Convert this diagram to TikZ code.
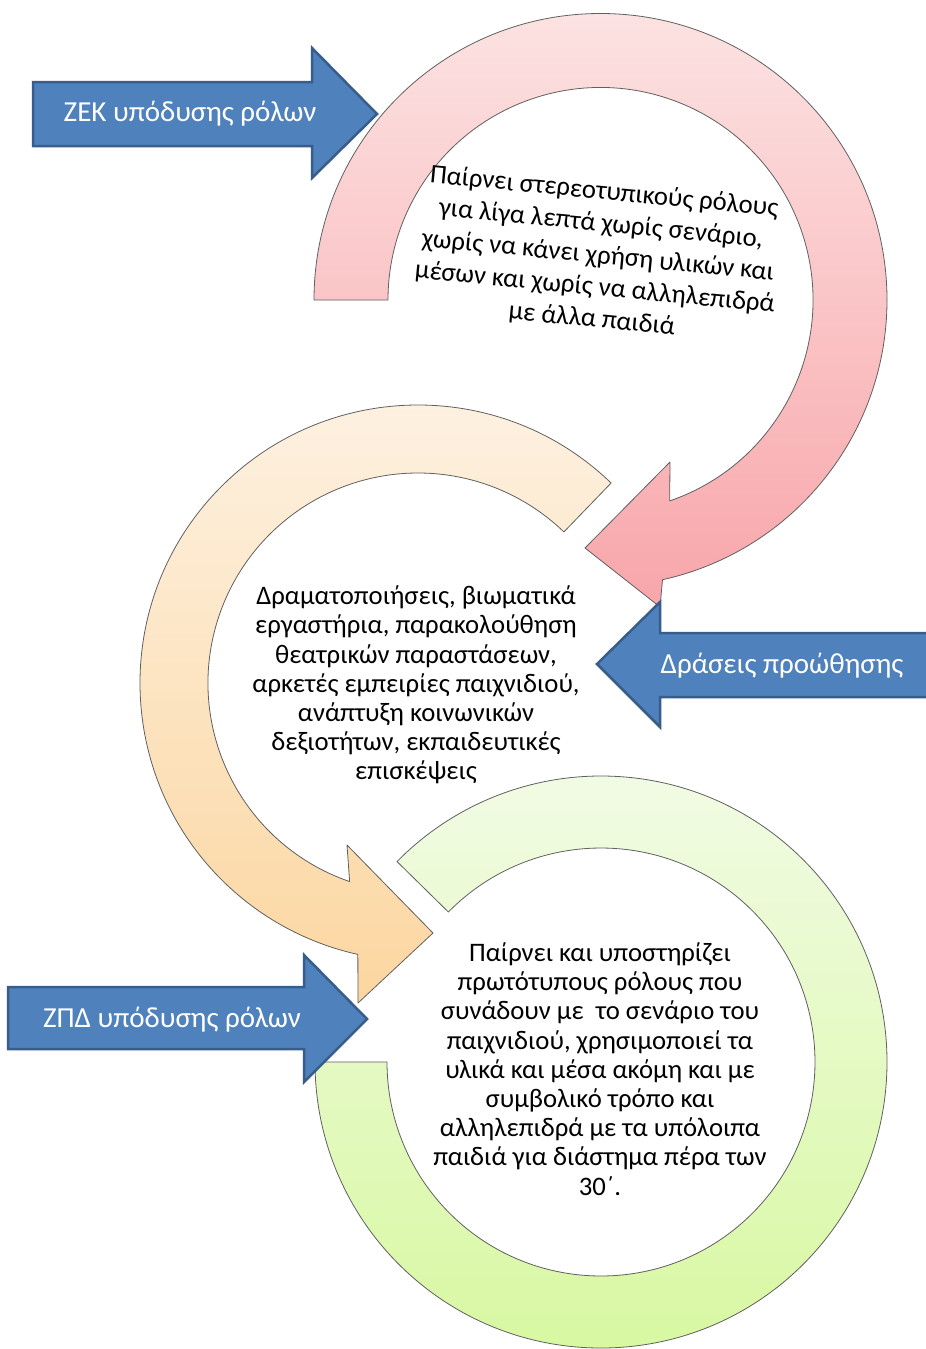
\documentclass[tikz,border=0pt]{standalone}
\usepackage{fontspec}
\setmainfont{Carlito}
\usetikzlibrary{calc}
\definecolor{pinkTop}{RGB}{252,226,226}
\definecolor{pinkBot}{RGB}{248,166,170}
\definecolor{orangeTop}{RGB}{253,242,227}
\definecolor{orangeBot}{RGB}{252,214,160}
\definecolor{greenTop}{RGB}{241,251,228}
\definecolor{greenBot}{RGB}{216,248,162}
\definecolor{arrowBlue}{RGB}{79,129,189}
\definecolor{arrowEdge}{RGB}{56,93,138}

\begin{document}
\begin{tikzpicture}[x=1pt,y=-1pt,
  ring/.style={draw=gray!75!black, line width=0.8pt, line join=round},
  bluearrow/.style={fill=arrowBlue, draw=arrowEdge, line width=2.5pt},
  arrowtext/.style={text=white, font=\fontsize{29}{34}\selectfont},
  circletext/.style={align=center, font=\fontsize{26.7}{29.2}\selectfont}]
  \fill[white] (0,0) rectangle (926,1349);
  \useasboundingbox (0,0) rectangle (926,1349);

  \coordinate (pinkc) at (600.5,300);
  \coordinate (orc) at (418,683);
  \coordinate (greenc) at (601,1062);

  \draw[ring, top color=greenTop, bottom color=greenBot]
    ($(greenc)+(180:286)$) arc[start angle=180, end angle=-135.5, radius=286]
    -- ($(greenc)+(-135.5:214)$) arc[start angle=-135.5, end angle=180, radius=214] -- cycle;
  \draw[ring, top color=orangeTop, bottom color=orangeBot]
    ($(orc)+(-46:278)$) arc[start angle=-46, end angle=-257.5, radius=278]
    -- (358,1003) -- (433,933) -- (347,845)
    -- ($(orc)+(-251:210)$) arc[start angle=-251, end angle=-46, radius=210] -- cycle;
  \draw[ring, top color=pinkTop, bottom color=pinkBot]
    ($(pinkc)+(180:286.5)$) arc[start angle=180, end angle=437.5, radius=286.5]
    -- (660,607) -- (585,548) -- (670,462)
    -- ($(pinkc)+(71:212.5)$) arc[start angle=71, end angle=-180, radius=212.5] -- cycle;

  \draw[bluearrow] (33,82) -- (312,82) -- (312,48) -- (377,114) -- (312,178) -- (312,146) -- (33,146) -- cycle;
  \draw[bluearrow] (940,633) -- (660,633) -- (660,602) -- (597,664) -- (660,727) -- (660,697) -- (940,697) -- cycle;
  \draw[bluearrow] (8,987) -- (304,987) -- (304,955) -- (367,1019) -- (304,1082) -- (304,1049) -- (8,1049) -- cycle;

  \node[arrowtext] (zek) at (190,114) {ΖΕΚ υπόδυσης ρόλων};
  \node[arrowtext] (draseis) at (782,666) {Δράσεις προώθησης};
  \node[arrowtext] (zpd) at (172,1020) {ΖΠΔ υπόδυσης ρόλων};

  \node[circletext, font=\fontsize{26.7}{32}\selectfont, rotate=-5.5] (zektext) at (598,256) {Παίρνει στερεοτυπικούς ρόλους\\για λίγα λεπτά χωρίς σενάριο,\\χωρίς να κάνει χρήση υλικών και\\μέσων και χωρίς να αλληλεπιδρά\\με άλλα παιδιά};
  \node[circletext] (drtext) at (416,685) {Δραματοποιήσεις, βιωματικά\\εργαστήρια, παρακολούθηση\\θεατρικών παραστάσεων,\\αρκετές εμπειρίες παιχνιδιού,\\ανάπτυξη κοινωνικών\\δεξιοτήτων, εκπαιδευτικές\\επισκέψεις};
  \node[circletext] (zpdtext) at (600,1069) {Παίρνει και υποστηρίζει\\πρωτότυπους ρόλους που\\συνάδουν με\ \ το σενάριο του\\παιχνιδιού, χρησιμοποιεί τα\\υλικά και μέσα ακόμη και με\\συμβολικό τρόπο και\\αλληλεπιδρά με τα υπόλοιπα\\παιδιά για διάστημα πέρα των\\30΄.};
\end{tikzpicture}
\end{document}
